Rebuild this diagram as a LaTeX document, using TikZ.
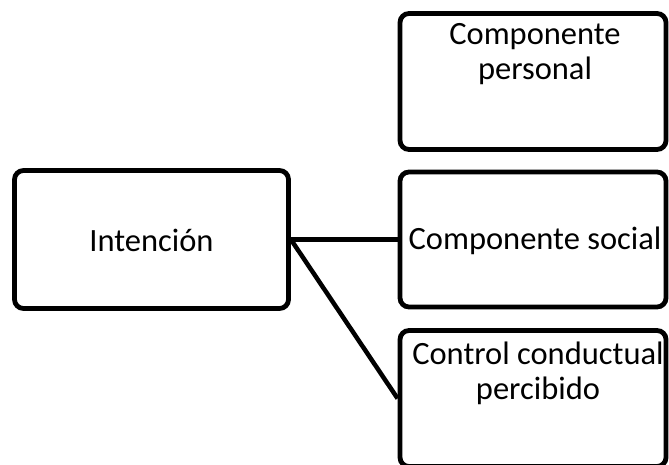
\documentclass[tikz,border=0pt]{standalone}
\usepackage{fontspec}
\setmainfont{Carlito}
\begin{document}
\begin{tikzpicture}[x=1pt,y=1pt,
  box/.style={draw=black, line width=4.8pt, rounded corners=9pt,
    minimum width=266pt, minimum height=136pt, inner sep=0pt},
  lbl/.style={font=\fontsize{32.5}{35}\selectfont, align=center, inner sep=0pt},
  link/.style={draw=black, line width=4.5pt}]
\useasboundingbox (0,0) rectangle (669,464);

% boxes
\node[box, minimum width=274pt, minimum height=138pt] (int) at (151.5,224.5) {};
\node[box] (pers) at (533,382.5) {};
\node[box, minimum height=135pt] (soc) at (533,224.5) {};
\node[box] (ctrl) at (533,65.5) {};

% texts
\node[lbl] (tint) at ([yshift=-1pt]int.center) {Intención};
\node[lbl] (tsoc) at ([xshift=2pt,yshift=-1pt]soc.center) {Componente social};
\node[lbl, anchor=north] (tpers) at (535,441) {Componente\\personal};
\node[lbl, anchor=north] (tctrl) at (538,122) {Control conductual\\percibido};

% connectors
\draw[link] (int.east) -- (soc.west);
\draw[link] (int.east) -- (ctrl.west);
\end{tikzpicture}
\end{document}
